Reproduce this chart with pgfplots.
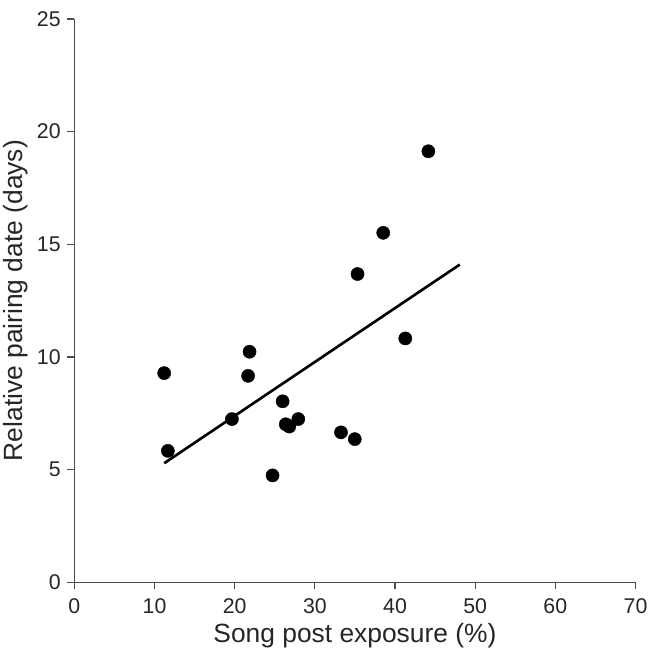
\documentclass[border=0pt]{standalone}
\usepackage{fontspec}
\setmainfont{Liberation Sans}
\usepackage{pgfplots}
\pgfplotsset{compat=1.18}
\begin{document}
\begin{tikzpicture}
\begin{axis}[
  width=553pt, height=555pt, scale only axis,
  xmin=0, xmax=70, ymin=0, ymax=25,
  axis lines=left,
  axis line style={-, line width=1.2pt, black!70},
  xtick={0,10,...,70}, ytick={0,5,...,25},
  tick align=outside, major tick length=7pt,
  tick style={black!70, line width=1.2pt},
  tick label style={font=\fontsize{21}{21}\selectfont, black!85},
  x tick label style={yshift=-6pt},
  y tick label style={xshift=-3pt},
  label style={font=\fontsize{26}{26}\selectfont, black!85},
  xlabel={Song post exposure (\%)},
  ylabel={Relative pairing date (days)},
  xlabel style={yshift=-2pt},
  ylabel style={yshift=2pt},
  /pgf/number format/assume math mode=true,
  clip=false,
]
% observed points
\addplot[only marks, mark=*, mark size=6.5pt, black] coordinates {
  (11.2,9.28) (11.66,5.83) (21.85,10.23) (21.67,9.16) (19.65,7.24)
  (25.98,8.03) (26.37,7.01) (26.8,6.91) (27.93,7.24) (24.72,4.74)
  (44.16,19.13) (38.53,15.51) (35.32,13.68) (41.28,10.82)
  (33.26,6.65) (34.98,6.35)
};
% regression line
\addplot[black, line width=2.6pt, no marks] coordinates {
  (11.2,5.28) (48.08,14.1)
};
\end{axis}
\path (current bounding box.north) ++(0,8pt) coordinate (top);
\path (top);
\end{tikzpicture}
\end{document}
